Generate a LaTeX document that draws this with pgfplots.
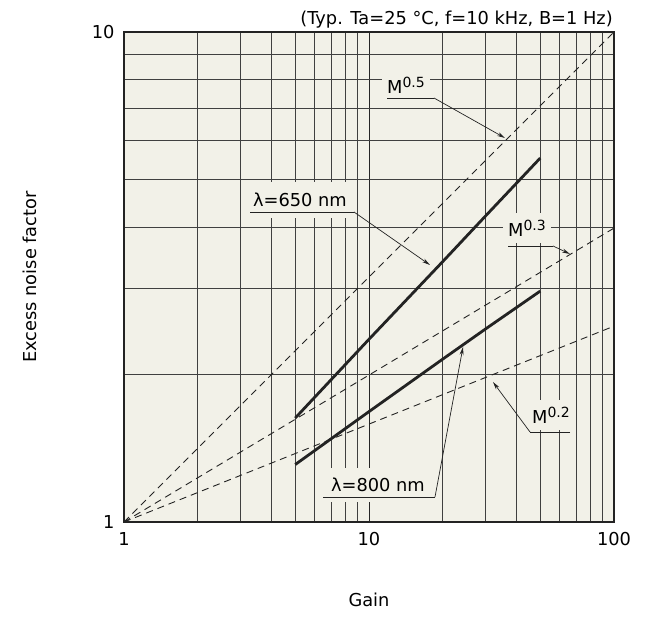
\documentclass[border=0pt]{standalone}
\usepackage{pgfplots}
\pgfplotsset{compat=1.18}
\usepackage{fontspec}
\setmainfont{DejaVu Sans}
\usetikzlibrary{arrows.meta}
\definecolor{bgc}{RGB}{242,241,232}
\definecolor{ink}{RGB}{35,35,35}
\newcommand{\lbl}{\fontsize{17.8}{21}\selectfont}
\newcommand{\msup}[1]{\raisebox{0.32em}{\fontsize{14}{14}\selectfont #1}}

\begin{document}
\begin{tikzpicture}[x=1pt,y=1pt]
\path[use as bounding box] (-124,-98) rectangle (522,522);
\begin{axis}[
    at={(0,0)}, anchor=south west,
    scale only axis, width=490pt, height=490pt,
    xmode=log, ymode=log,
    xmin=1, xmax=100, ymin=1, ymax=10,
    xtick={1,10,100}, xticklabels={1,10,100},
    ytick={1,10}, yticklabels={1,10},
    minor xtick={2,3,4,5,6,7,8,9,20,30,40,50,60,70,80,90},
    minor ytick={2,3,4,5,6,7,8,9},
    grid=both,
    major grid style={black!85, line width=0.8pt},
    minor grid style={black!75, line width=0.8pt},
    tick style={draw=none},
    axis line style={ink, line width=2pt},
    axis background/.style={fill=bgc},
    /pgf/number format/assume math mode=true,
    tick label style={font=\lbl},
    xticklabel style={yshift=-7pt},
    yticklabel style={xshift=-6pt},
    xlabel={Gain}, ylabel={Excess noise factor},
    label style={font=\lbl},
    xlabel style={at={(axis description cs:0.5,-0.159)}, anchor=center},
    ylabel style={at={(axis description cs:-0.192,0.5)}, anchor=center},
    clip=false,
]
% reference slopes M^0.5, M^0.3, M^0.2
\addplot[ink, line width=0.9pt, dash pattern=on 7pt off 5pt] coordinates {(1,1) (100,10)};
\addplot[ink, line width=0.9pt, dash pattern=on 7pt off 5pt] coordinates {(1,1) (100,3.98)};
\addplot[ink, line width=0.9pt, dash pattern=on 7pt off 5pt] coordinates {(1,1) (100,2.51)};
% measured curves
\addplot[ink, line width=2.8pt] coordinates {(5,1.63) (10,2.36) (20,3.40) (30,4.22) (50,5.53)};
\addplot[ink, line width=2.8pt] coordinates {(5,1.31) (10,1.68) (20,2.15) (30,2.48) (50,2.96)};
\end{axis}

% annotations (axis box spans (0,0)-(490,490))
\tikzset{lead/.style={ink, line width=0.7pt}, arr/.style={lead, -{Stealth[length=8pt,width=4pt]}}}
\node[fill=bgc, font=\lbl, minimum height=30pt, inner xsep=5pt] at (282,437) {M\msup{0.5}};
\draw[lead] (263,424) -- (310,424);
\draw[arr] (310,424) -- (381,384);

\node[fill=bgc, font=\lbl, minimum height=36pt, inner xsep=4pt] at (176,322) {λ=650 nm};
\draw[lead] (126,310) -- (230,310);
\draw[arr] (230,310) -- (306,257);

\node[fill=bgc, font=\lbl, minimum height=30pt, inner xsep=5pt] at (403,294) {M\msup{0.3}};
\draw[lead] (384,276) -- (429,276);
\draw[arr] (429,276) -- (446,268);

\node[fill=bgc, font=\lbl, minimum height=30pt, inner xsep=5pt] at (427,107) {M\msup{0.2}};
\draw[lead] (446,90) -- (406,90);
\draw[arr] (406,90) -- (369,140);

\node[fill=bgc, font=\lbl, minimum height=34pt, inner xsep=5pt] at (254,37) {λ=800 nm};
\draw[lead] (199,25) -- (311,25);
\draw[arr] (311,25) -- (339,175);

\node[font=\lbl, anchor=base east, inner sep=0pt] at (489,497) {(Typ. Ta=25 °C, f=10 kHz, B=1 Hz)};
\end{tikzpicture}
\end{document}
